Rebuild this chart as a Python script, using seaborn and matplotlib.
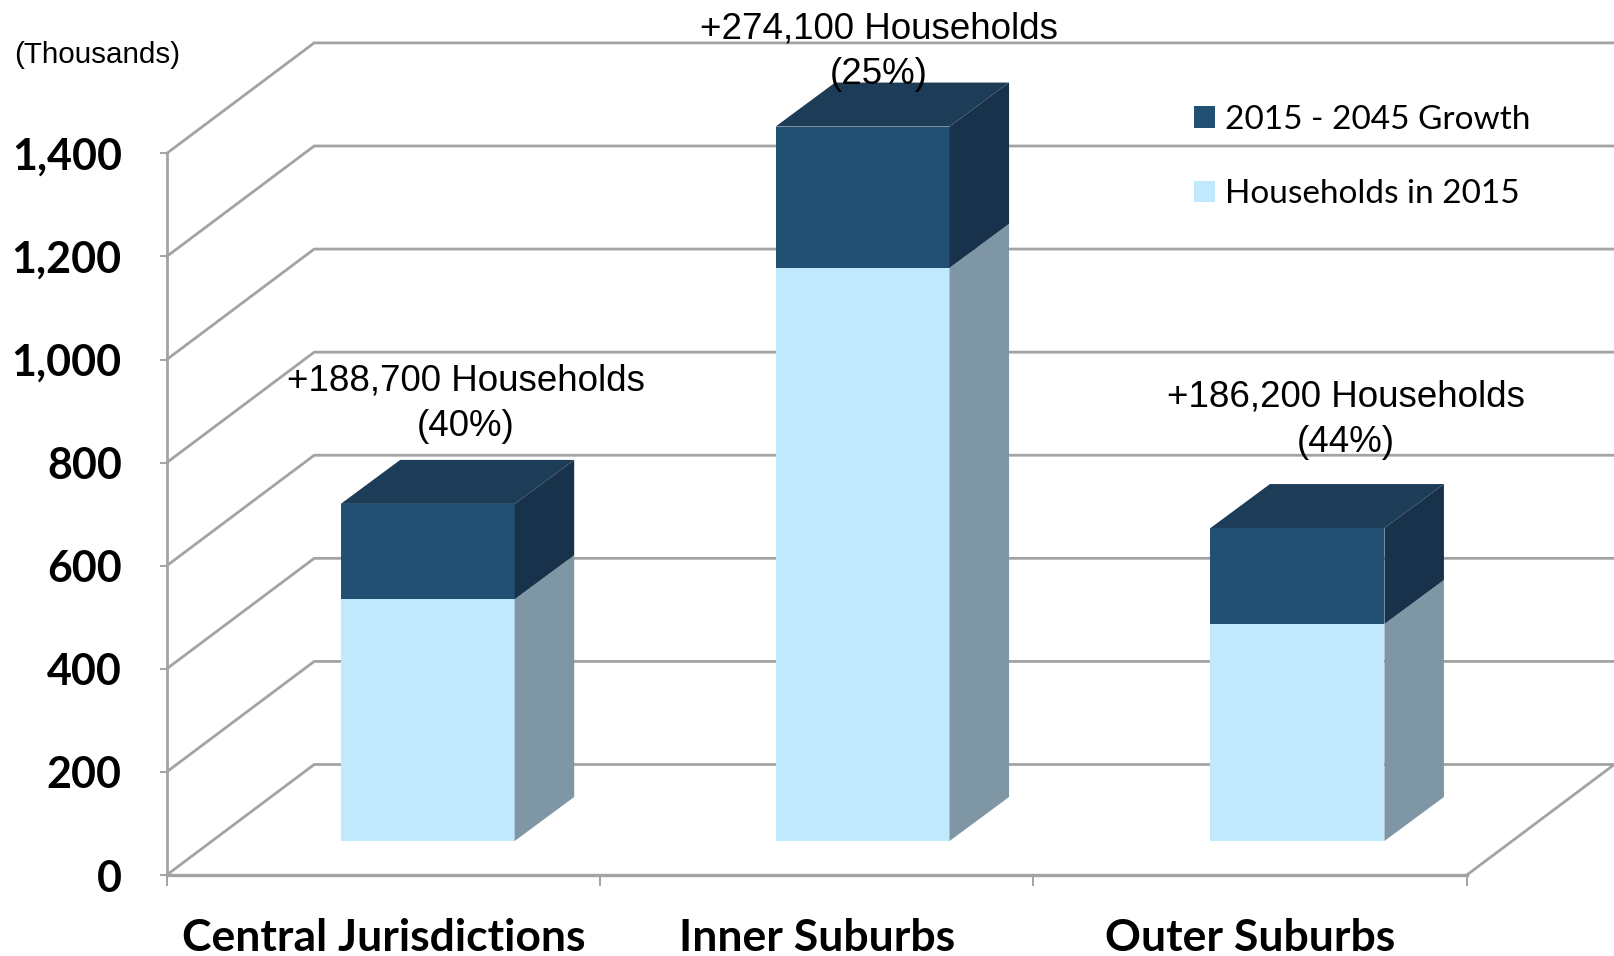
import matplotlib
matplotlib.use("Agg")
import matplotlib.pyplot as plt
import pandas as pd
import seaborn as sns
from matplotlib.patches import Polygon

# ---- data (thousands of households) ----
regions = ["Central Jurisdictions", "Inner Suburbs", "Outer Suburbs"]
households_2015 = [469, 1112, 421]
growth_2015_2045 = [185, 274.1, 186.2]
y_ticks = [0, 200, 400, 600, 800, 1000, 1200, 1400]
y_tick_labels = ["0", "200", "400", "600", "800", "1,000", "1,200", "1,400"]
callouts = ["+188,700 Households\n(40%)", "+274,100 Households\n(25%)", "+186,200 Households\n(44%)"]
series_names = ["Households in 2015", "2015 - 2045 Growth"]

W, H = 1614, 956
sns.set_theme(style="white")
plt.rcParams["font.family"] = ["Lato", "DejaVu Sans"]

GRID = "#a3a3a3"
LIGHT, DARK = "#c1e9fe", "#225072"
TOP, SIDE_D, SIDE_L = "#1d3c57", "#17324a", "#7f97a5"

fig = plt.figure(figsize=(W / 100, H / 100), dpi=100, facecolor="white")
L, R, Y0, Y1 = 166.7, 1466.8, 875.0, 153.4

ax = fig.add_axes([L / W, (H - Y0) / H, (R - L) / W, (Y0 - Y1) / H])
ax.set_xlim(-0.5, 2.5)
ax.set_ylim(0, 1400)
ax.patch.set_alpha(0)

# projection of the 3-D box in data units
px_x = 3 / (R - L)
px_y = 1400 / (Y0 - Y1)
wall_dx, wall_dy = 147.5 * px_x, 110.5 * px_y

for v in y_ticks:
    ax.plot([-0.5, -0.5 + wall_dx, 2.5 + wall_dx], [v, v + wall_dy, v + wall_dy],
            color=GRID, lw=2.0, clip_on=False, solid_joinstyle="miter", zorder=1)
ax.plot([2.5, 2.5 + wall_dx], [0, wall_dy], color=GRID, lw=2.0, clip_on=False, zorder=1)

ax.set_yticks(y_ticks, y_tick_labels, fontsize=31, fontweight="bold", color="black")
ax.set_xticks([-0.5, 0.5, 1.5, 2.5], [""] * 4)
ax.tick_params(axis="y", length=5, width=1.4, color=GRID, pad=27.3, left=True)
ax.tick_params(axis="x", length=8, width=1.4, color=GRID, bottom=True)
for s in ["top", "right"]:
    ax.spines[s].set_visible(False)
for s in ["left", "bottom"]:
    ax.spines[s].set_color(GRID)
ax.spines["left"].set_linewidth(2.0)
ax.spines["bottom"].set_linewidth(2.4)

for i, name in enumerate(regions):
    ax.text(i, -123, name, ha="center", va="center", fontsize=32,
            fontweight="bold", color="black", clip_on=False)

# bars live on a second axes shifted to the floor position inside the box
spacing = 422.5 * 1.0293
bx = fig.add_axes([(427.7 - 0.5 * spacing) / W, (H - Y0 + 34.0) / H, 3 * spacing / W, (Y0 - Y1) / H])
bx.patch.set_alpha(0)
df = pd.DataFrame({"region": regions, "base": households_2015, "growth": growth_2015_2045})
sns.barplot(data=df, x="region", y="base", color=LIGHT, saturation=1, width=0.4, ax=bx,
            label=series_names[0], linewidth=0, zorder=3)
sns.barplot(data=df, x="region", y="growth", bottom=df["base"], color=DARK, saturation=1,
            width=0.4, ax=bx, label=series_names[1], linewidth=0, zorder=3)
handles, labels = bx.get_legend_handles_labels()
if bx.get_legend() is not None:
    bx.get_legend().remove()
bx.set_xlim(-0.5, 2.5)
bx.set_ylim(0, 1400)
bx.axis("off")

bar_dx, bar_dy = 59.5 / spacing, 44 * px_y
for i, (b, g) in enumerate(zip(households_2015, growth_2015_2045)):
    x1 = i + 0.2
    x0 = i - 0.2
    t = b + g
    bx.add_patch(Polygon([(x1, 0), (x1 + bar_dx, bar_dy), (x1 + bar_dx, b + bar_dy), (x1, b)],
                         fc=SIDE_L, ec="none", clip_on=False, zorder=3))
    bx.add_patch(Polygon([(x1, b), (x1 + bar_dx, b + bar_dy), (x1 + bar_dx, t + bar_dy), (x1, t)],
                         fc=SIDE_D, ec="none", clip_on=False, zorder=3))
    bx.add_patch(Polygon([(x0, t), (x0 + bar_dx, t + bar_dy), (x1 + bar_dx, t + bar_dy), (x1, t)],
                         fc=TOP, ec="none", clip_on=False, zorder=3))

# callouts
positions = [(466, 381), (879, 29), (1346, 397)]
for (px, py), txt in zip(positions, callouts):
    a, bb = txt.split("\n")
    fig.text(px / W, 1 - py / H, a, ha="center", va="center", fontsize=26.5,
             family="Liberation Sans", color="black", zorder=6)
    fig.text(px / W, 1 - (py + 45) / H, bb, ha="center", va="center", fontsize=26.5,
             family="Liberation Sans", color="black", zorder=6)

fig.text(14.5 / W, 1 - 55 / H, "(Thousands)", ha="left", va="center", fontsize=21.3,
         family="Liberation Sans", color="black")

leg = fig.legend(handles[::-1], labels[::-1], loc="upper left",
                 bbox_to_anchor=(1194 / W, 1 - 105 / H), bbox_transform=fig.transFigure,
                 frameon=False, fontsize=24, handlelength=0.62, handleheight=0.62,
                 handletextpad=0.3, labelspacing=1.33, borderpad=0, borderaxespad=0)
for t in leg.get_texts():
    t.set_color("black")

fig.savefig("out.png", dpi=100)
